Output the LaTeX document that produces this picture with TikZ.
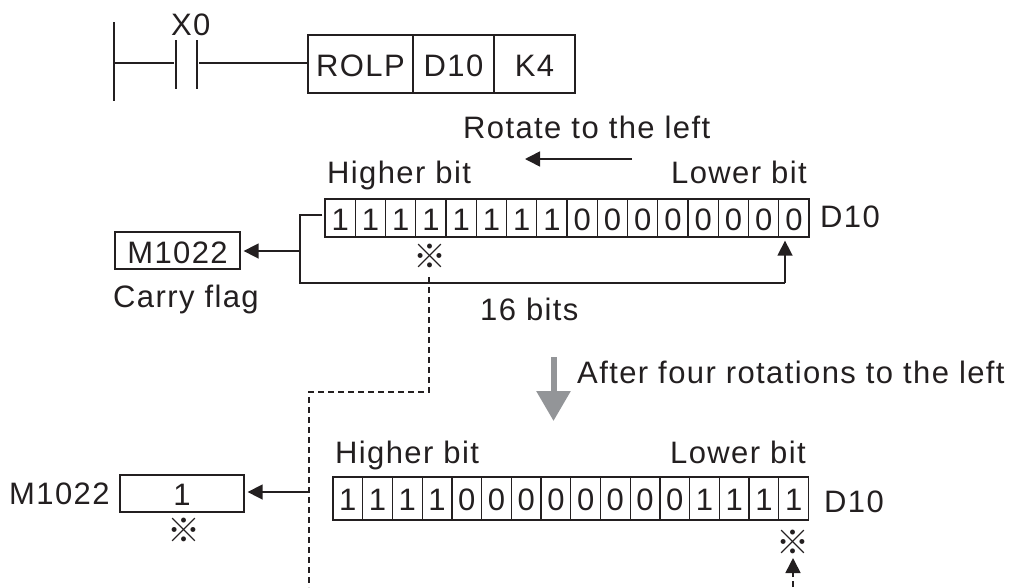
\documentclass[tikz,border=0pt]{standalone}
\usepackage{fontspec}
\setmainfont[LetterSpace=4.5]{Liberation Sans}
\newfontfamily\cjkmark{Noto Sans CJK SC}
\usetikzlibrary{arrows.meta}
\definecolor{ink}{HTML}{231F20}
\definecolor{greyarrow}{HTML}{939598}
\tikzset{
  x=1pt,y=-1pt,
  wire/.style={draw=ink,line width=1.3pt},
  flow/.style={wire,line width=1.6pt,-{Triangle[length=15pt,width=15pt]},shorten >=3pt},
  dashwire/.style={wire,line width=1.5pt,dash pattern=on 6pt off 4pt},
  label/.style={text=ink,inner sep=0pt,anchor=base west,font=\fontsize{31}{31}\selectfont},
  cellbox/.style={draw=ink,line width=1.3pt,inner sep=0pt,text=ink,font=\fontsize{31}{31}\selectfont},
  refmark/.style={text=ink,inner sep=0pt,font=\cjkmark\fontsize{33}{33}\selectfont},
  bitone/.style={cellbox,minimum width=30.25pt,text height=31pt,text depth=7pt},
  bittwo/.style={cellbox,minimum width=29.72pt,text height=33pt,text depth=10pt},
}
\begin{document}
\begin{tikzpicture}
\useasboundingbox (0,0) rectangle (1011,587);
% ladder
\coordinate (railt) at (114,22);
\coordinate (railb) at (114,101);
\coordinate (railm) at (114,63);
\draw[wire] (railt) -- (railb);
\coordinate (c1t) at (176,40); \coordinate (c1b) at (176,89); \coordinate (c1m) at (174,63);
\coordinate (c2t) at (197,40); \coordinate (c2b) at (197,89); \coordinate (c2m) at (199,63);
\draw[wire] (c1t) -- (c1b);
\draw[wire] (c2t) -- (c2b);
\node[label] (x0) at (171,35) {X0};
\node[cellbox,minimum width=105pt,text height=41pt,text depth=17pt] (rolp) at (360.5,64) {ROLP};
\node[cellbox,minimum width=81pt,text height=41pt,text depth=17pt] (d10a) at (453.5,64) {D10};
\node[cellbox,minimum width=81pt,text height=41pt,text depth=17pt] (k4) at (534.5,64) {K4};
\draw[wire] (railm) -- (c1m);
\draw[wire] (c2m) -- (rolp.west |- c2m);
% top
\node[label] (rot) at (463,138) {Rotate to the left};
\coordinate (ra) at (632,159); \coordinate (rb) at (522,159);
\draw[flow] (ra) -- (rb);
\node[label] (h1) at (327,183) {Higher bit};
\node[label] (l1) at (671,183) {Lower bit};
% row one
\foreach \v [count=\i] in {1,1,1,1,1,1,1,1,0,0,0,0,0,0,0,0} {
  \node[bitone] (a\i) at ({325+15.125+30.25*(\i-1)},218) {\v};
}
\node[label] (d1) at (820,227) {D10};
\node[cellbox,minimum width=125pt,text height=31pt,text depth=6pt] (m1) at (177.5,250.5) {M1022};
\node[label] (cf) at (113,307) {Carry flag};
\node[refmark] (mk1) at (430,256) {※};
\node[label] (b16) at (480,320) {16 bits};
\coordinate (j1) at (300,215);
\coordinate (j2) at (300,251);
\coordinate (j3) at (300,283);
\coordinate (j4) at (785,283);
\draw[wire,shorten <=2pt] (a1.west |- j1) -- (j1) -- (j3) -- (j4);
\draw[flow] (j4) -- (j4 |- a16.south);
\draw[flow] (j2) -- (m1.east |- j2);
% dashed
\coordinate (d1a) at (429,277);
\coordinate (d1b) at (429,392);
\coordinate (d1c) at (309,392);
\coordinate (d1d) at (309,587);
\draw[dashwire] (d1a) -- (d1b) -- (d1c) -- (d1d);
% grey arrow
\coordinate (ga) at (553.5,357); \coordinate (gb) at (553.5,421);
\draw[draw=greyarrow,fill=greyarrow,line width=6pt,-{Triangle[length=30pt,width=33pt]}] (ga) -- (gb);
\node[label] (after) at (577,383) {After four rotations to the left};
% row two
\node[label] (h2) at (335,463) {Higher bit};
\node[label] (l2) at (670,463) {Lower bit};
\foreach \v [count=\i] in {1,1,1,1,0,0,0,0,0,0,0,0,1,1,1,1} {
  \node[bittwo] (b\i) at ({333+14.86+29.72*(\i-1)},498.5) {\v};
}
\node[label] (d2) at (824,512) {D10};
\node[label] (m2l) at (9,504) {M1022};
\node[cellbox,minimum width=124pt,text height=30pt,text depth=7pt] (m2) at (182,493.5) {1};
\node[refmark] (mk2) at (184,530) {※};
\node[refmark] (mk3) at (793,542) {※};
\coordinate (j5) at (309,492);
\draw[flow] (j5) -- (m2.east |- j5);
\coordinate (e1) at (793,587); \coordinate (e2) at (793,574); \coordinate (e3) at (793,558);
\draw[dashwire] (e1) -- (e2);
\draw[flow,shorten >=0pt] (e2) -- (e3);
\end{tikzpicture}
\end{document}
